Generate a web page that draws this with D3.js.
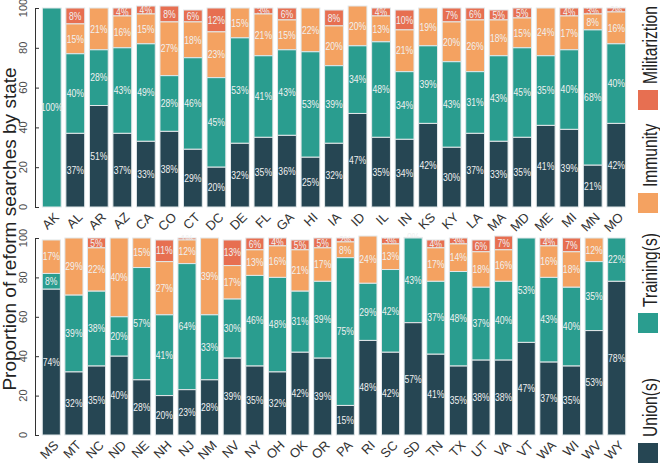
<!DOCTYPE html>
<html>
<head>
<meta charset="utf-8">
<script src="https://cdn.jsdelivr.net/npm/d3@7"></script>
<style>
  html, body { margin: 0; padding: 0; background: #fff; }
  svg { display: block; font-family: "Liberation Sans", Arial, sans-serif; }
</style>
</head>
<body>
<svg id="chart" width="660" height="463"></svg>
<script>
// ---- data ----
const series = ["Union(s)", "Training(s)", "Immunity", "Militariztion"];
const colors = ["#264653", "#2a9d8f", "#f4a261", "#e76f51"];

const states1 = ["AK","AL","AR","AZ","CA","CO","CT","DC","DE","FL","GA","HI","IA","ID","IL","IN","KS","KY","LA","MA","MD","ME","MI","MN","MO"];
const union1    = [0,37,51,37,33,38,29,20,32,35,36,25,32,47,35,34,42,30,37,33,35,41,39,21,42];
const training1 = [100,40,28,43,49,28,46,45,53,41,43,53,39,34,48,34,39,43,31,43,45,35,40,68,40];
const immunity1 = [0,15,21,16,15,27,18,23,15,21,15,22,20,20,13,21,19,20,26,18,15,24,17,8,16];
const milit1    = [0,8,0,4,4,8,6,12,0,3,6,0,8,0,4,10,0,7,6,5,5,0,4,3,2];

const states2 = ["MS","MT","NC","ND","NE","NH","NJ","NM","NV","NY","OH","OK","OR","PA","RI","SC","SD","TN","TX","UT","VA","VT","WA","WI","WV","WY"];
const union2    = [74,32,35,40,28,20,23,28,39,35,32,42,39,15,48,42,57,41,35,38,38,47,37,35,53,78];
const training2 = [8,39,38,20,57,41,64,33,30,46,48,31,39,75,29,42,43,37,48,37,40,53,43,40,35,22];
const immunity2 = [17,29,22,40,15,27,12,39,17,13,16,21,17,8,24,13,0.3,17,14,18,16,0,16,18,12,0];
const milit2    = [0,0,5,0,0,11,1,0,13,6,4,5,5,2,0,3,0,4,3,6,7,0,4,7,0,0];

const yTicks = [0,20,40,60,80,100];

// ---- layout ----
const svg = d3.select("#chart");
const panels = [
  {states: states1, vals: [union1, training1, immunity1, milit1], top: 8, bottom: 207},
  {states: states2, vals: [union2, training2, immunity2, milit2], top: 238, bottom: 435}
];

panels.forEach(p => {
  const x = d3.scaleBand().domain(p.states).range([40, 628]).paddingInner(0.2).paddingOuter(0.1);
  const y = d3.scaleLinear().domain([0, 100]).range([p.bottom, p.top]);

  const rows = p.states.map((s, i) => {
    const o = {state: s};
    series.forEach((k, j) => o[k] = p.vals[j][i]);
    return o;
  });
  const stacked = d3.stack().keys(series)(rows);

  const g = svg.append("g");
  // draw from top segment down so lower rects cover overflowing labels
  for (let j = series.length - 1; j >= 0; j--) {
    const layer = stacked[j];
    const sg = g.append("g");
    sg.selectAll("rect").data(layer).join("rect")
      .attr("x", d => x(d.data.state))
      .attr("width", x.bandwidth())
      .attr("y", d => y(d[1]))
      .attr("height", d => Math.max(0, y(d[0]) - y(d[1])))
      .attr("fill", colors[j])
      .attr("stroke", "#e2e8ea")
      .attr("stroke-width", 1);
    sg.selectAll("text").data(layer.filter(d => d[1] - d[0] > 0)).join("text")
      .attr("transform", d => `translate(${x(d.data.state) + x.bandwidth() / 2},${(y(d[0]) + y(d[1])) / 2}) scale(0.82,1)`)
      .attr("text-anchor", "middle")
      .attr("dy", "0.35em")
      .attr("font-size", 10.5)
      .attr("fill", "#f0f0f0")
      .text(d => Math.round(d[1] - d[0]) + "%");
  }

  // y axis
  const ax = svg.append("g").attr("transform", "translate(35,0)")
    .call(d3.axisLeft(y).tickValues(yTicks).tickSizeInner(-4).tickSizeOuter(-4).tickFormat(""));
  ax.select(".domain").attr("stroke", "#333");
  ax.selectAll(".tick line").attr("stroke", "#333");
  svg.append("g").selectAll("text").data(yTicks).join("text")
    .attr("transform", d => `translate(27,${y(d)}) rotate(-90)`)
    .attr("text-anchor", "middle")
    .attr("font-size", 11)
    .attr("fill", "#4d4d4d")
    .text(d => d);

  // x labels
  svg.append("g").selectAll("text").data(p.states).join("text")
    .attr("transform", d => `translate(${x(d) + x.bandwidth() / 2 + 8},${p.bottom + 11}) rotate(-45)`)
    .attr("text-anchor", "end")
    .attr("font-size", 13)
    .attr("fill", "#333")
    .text(d => d);
});

// y title
svg.append("text")
  .attr("transform", "translate(16,229) rotate(-90)")
  .attr("text-anchor", "middle")
  .attr("font-size", 19)
  .attr("fill", "#222")
  .text("Proportion of reform searches by state");

// legend (vertical, rotated)
const legendSw = [443, 313, 193, 90]; // swatch tops, per series order
series.forEach((k, j) => {
  const t = legendSw[j];
  svg.append("rect")
    .attr("x", 638).attr("y", t).attr("width", 20).attr("height", 20)
    .attr("fill", colors[j]);
  svg.append("text")
    .attr("transform", `translate(657,${t - 6}) rotate(-90) scale(0.78,1)`)
    .attr("text-anchor", "start")
    .attr("font-size", 20)
    .attr("fill", "#222")
    .text(k);
});
</script>
</body>
</html>
